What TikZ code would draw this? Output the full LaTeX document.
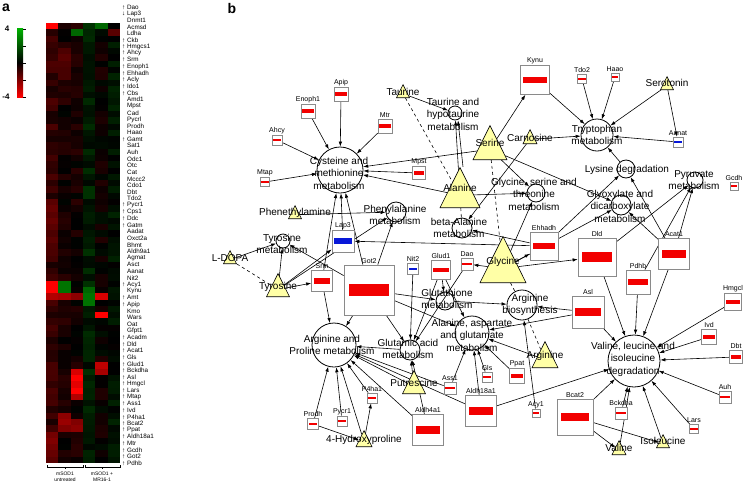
\documentclass[tikz,border=0pt]{standalone}
\usepackage{fontspec}
\setmainfont{Liberation Sans}
\usetikzlibrary{arrows.meta, shapes.geometric, backgrounds}

\definecolor{metYellow}{HTML}{FFFFA6}
\definecolor{barRed}{HTML}{F20000}
\definecolor{barBlue}{HTML}{0818D8}
\definecolor{boxGray}{HTML}{8A8A8A}
\definecolor{keyGreen}{HTML}{00B400}

\tikzset{
  panel/.style={font=\fontsize{14}{14}\selectfont\bfseries, inner sep=0pt},
  keylbl/.style={font=\fontsize{8}{8}\selectfont\bfseries, inner sep=0pt},
  hmlbl/.style={font=\fontsize{6.3}{6.5}\selectfont, inner sep=0pt, anchor=west},
  grplbl/.style={font=\fontsize{5}{5.5}\selectfont, align=center, inner sep=0pt},
  pathway/.style={circle, draw, line width=0.8pt, inner sep=0pt},
  pwtext/.style={align=center, font=\fontsize{10}{12.5}\selectfont, inner sep=0pt},
  metab/.style={isosceles triangle, isosceles triangle apex angle=53, shape border rotate=90,
    draw, fill=metYellow, inner sep=0pt, line width=0.6pt, anchor=lower side},
  enzbox/.style={draw=boxGray, fill=white, line width=0.7pt, inner sep=0pt},
  enzlbl/.style={font=\fontsize{7}{8}\selectfont, inner sep=1pt},
  rel/.style={-{Latex[length=5pt,width=3.5pt]}, line width=0.6pt},
  assoc/.style={dashed, line width=0.6pt}
}

% enzyme: name, x, y, size, bar colour, label
\newcommand{\enzyme}[6]{%
  \node[enzbox, minimum size=#4pt, label={[enzlbl]above:#6}] (#1) at (#2,#3) {};
  \node[fill=#5, inner sep=0pt, minimum width={0.8*#4pt}, minimum height={max(2,0.24*#4)*1pt}] (#1-bar) at (#1) {};
}
% metabolite: name, x, base y, width, text y, text
\newcommand{\metabolite}[6]{%
  \node[metab, minimum width=#4pt, minimum height=#4pt] (#1) at (#2,#3) {};
  \node[pwtext] (#1-txt) at (#2,#5) {#6};
}
% pathway: name, x, y, radius, text x, text y, text
\newcommand{\pathway}[7]{%
  \node[pathway, minimum size=2*#4pt] (#1) at (#2,#3) {};
  \node[pwtext] (#1-txt) at (#5,#6) {#7};
}

\begin{document}
\begin{tikzpicture}[x=1pt, y=-1pt]
\useasboundingbox (0,0) rectangle (746,488);

\node[panel] (pa) at (6,8) {a};
\node[panel] (pb) at (232,8) {b};

% colour key
\shade[top color=keyGreen, bottom color=red, middle color=black] (17,28) rectangle (23,97);
\foreach \t in {29,46,63,80,97} \draw[line width=0.5pt] (23,\t) -- (26,\t);
\node[keylbl] (k4) at (7,29) {4};
\node[keylbl] (km4) at (6,97) {-4};

% heat map
\pgfmathsetseed{42}
\foreach \r in {0,...,69}{
  \foreach \c in {0,...,5}{
    \pgfmathsetmacro\hb{{-0.2,-0.08,-0.08,0.14,-0.03,0.07}[\c]}
    \pgfmathsetmacro\hv{\hb+0.22*(rnd-0.5)}
    \pgfmathtruncatemacro\hp{min(100,abs(\hv)*100)}
    \pgfmathtruncatemacro\hn{\hv<0}
    \ifnum\hn=1 \def\hc{red}\else\def\hc{green!80!black}\fi
    \fill[\hc!\hp!black] (46+\c*12.33, 23+\r*6.286) rectangle ++(12.34, 6.3);
  }
}
\foreach \r/\c/\hc in {0/0/red, 1/2/green!40!black, 0/4/green!40!black, 1/5/red!35!black,
  4/1/red!30!black, 5/1/red!35!black, 6/1/red!30!black, 7/1/red!28!black, 8/1/red!28!black,
  28/0/red!35!black, 29/0/red!40!black, 30/0/red!35!black, 31/0/red!40!black, 32/0/red!35!black,
  33/0/red!30!black, 34/0/red!35!black, 35/0/red!30!black,
  41/0/red, 42/0/red, 41/1/green!45!black, 42/1/green!45!black,
  43/0/red!70!black, 43/1/red!65!black, 43/2/red!55!black, 43/4/red!85!black, 46/4/red,
  42/3/green!40!black, 43/3/green!45!black, 44/3/green!45!black,
  54/4/red!75!black, 55/4/red!65!black, 55/2/red!85!black, 56/2/red, 57/2/red!90!black,
  58/2/red, 59/2/red!70!black, 62/1/red!55!black, 63/1/red!60!black, 63/2/red!50!black,
  64/1/red!50!black, 64/2/red!55!black, 65/0/red!45!black, 66/0/red!50!black,
  67/0/red!45!black, 68/0/red!40!black, 69/0/red!35!black}
  \fill[\hc] (46+\c*12.33, 23+\r*6.286) rectangle ++(12.34, 6.3);

\foreach \m/\g [count=\i from 0] in {↑/Dao, ↓/Lap3, /Dnmt1, /Acmsd, /Ldha, ↑/Ckb, ↑/Hmgcs1,
  ↑/Ahcy, ↑/Srm, ↑/Enoph1, ↑/Ehhadh, ↑/Acly, ↑/Ido1, ↑/Cbs, /Amd1, /Mpst, /Cad, /Pycrl,
  /Prodh, /Haao, ↑/Gamt, /Sat1, /Auh, /Odc1, /Otc, /Cat, /Mccc2, /Cdo1, /Dbt, /Tdo2,
  ↑/Pycr1, ↑/Cps1, ↑/Ddc, ↑/Gatm, /Aadat, /Oxct2a, /Bhmt, /Aldh9a1, /Agmat, /Asct,
  /Aanat, /Nit2, ↑/Acy1, /Kynu, ↑/Amt, ↑/Apip, /Kmo, /Wars, /Oat, /Gfpt1, ↑/Acadm,
  ↑/Dld, ↑/Acat1, ↑/Gls, ↑/Glud1, ↑/Bckdha, ↑/Asl, ↑/Hmgcl, ↑/Lars, ↑/Mtap, ↑/Ass1,
  ↑/Ivd, ↑/P4ha1, ↑/Bcat2, ↑/Ppat, ↑/Aldh18a1, ↑/Mtr, ↑/Gcdh, ↑/Got2, ↑/Pdhb}
  \node[hmlbl] (hm-\i) at (122, 7+\i*6.61) {\makebox[5pt][l]{\m}\g};

% groups
\draw[line width=0.6pt] (47,465) -- (47,467) -- (83,467) -- (83,465) (65,467) -- (65,469);
\draw[line width=0.6pt] (85,465) -- (85,467) -- (120,467) -- (120,465) (102,467) -- (102,469);
\node[grplbl] (g1) at (65,477) {mSOD1\\untreated};
\node[grplbl] (g2) at (102,477) {mSOD1 +\\MR16-1};

% pathways
\pathway{cysmet}{340}{170}{23}{339}{173}{Cysteine and\\methionine\\metabolism}
\pathway{taumet}{455}{113}{7}{453}{114}{Taurine and\\hypotaurine\\metabolism}
\pathway{trpmet}{597}{135}{16}{597}{135}{Tryptophan\\metabolism}
\pathway{lysdeg}{626}{169}{9}{627}{170}{Lysine degradation}
\pathway{pyrmet}{695}{180}{8}{694}{180}{Pyruvate\\metabolism}
\pathway{gsmet}{536}{193}{9}{534}{194}{Glycine, serine and\\threonine\\metabolism}
\pathway{glxmet}{621}{205}{10}{620}{206}{Glyoxylate and\\dicarboxylate\\metabolism}
\pathway{phemet}{396}{212}{10}{395}{215}{Phenylalanine\\metabolism}
\pathway{bamet}{462}{228}{10}{459}{228}{beta-Alanine\\metabolism}
\pathway{tyrmet}{283}{241}{7}{282}{244}{Tyrosine\\metabolism}
\pathway{gshmet}{445}{301}{9}{447}{299}{Glutathione\\metabolism}
\pathway{argbio}{522}{305}{15}{530}{305}{Arginine\\biosynthesis}
\pathway{aagmet}{472}{333}{17}{472}{335}{Alanine, aspartate\\and glutamate\\metabolism}
\pathway{glumet}{410}{350}{10}{408}{349}{Glutamic acid\\metabolism}
\pathway{argpro}{334}{345}{22}{332}{345}{Arginine and\\Proline metabolism}
\pathway{vlideg}{634}{361}{26}{633}{359}{Valine, leucine and\\isoleucine\\degradation}

% metabolites
\metabolite{taurine}{403}{98}{13}{92}{Taurine}
\metabolite{serotonin}{667}{90}{13}{83}{Serotonin}
\metabolite{carnosine}{530}{144}{14}{138}{Carnosine}
\metabolite{serine}{490}{160}{34}{143}{Serine}
\metabolite{alanine}{460}{208}{40}{188}{Alanine}
\metabolite{glycine}{503}{283}{46}{262}{Glycine}
\metabolite{phenethyl}{295}{219}{13}{213}{Phenethylamine}
\metabolite{ldopa}{230}{264}{13}{258}{L-DOPA}
\metabolite{tyrosine}{278}{297}{23}{287}{Tyrosine}
\metabolite{arginine}{545}{368}{26}{356}{Arginine}
\metabolite{putrescine}{414}{394}{23}{383}{Putrescine}
\metabolite{hyp}{364}{447}{16}{440}{4-Hydroxyproline}
\metabolite{valine}{619}{455}{14}{448}{Valine}
\metabolite{isoleucine}{663}{448}{13}{441}{Isoleucine}

% enzymes
\enzyme{apip}{341}{94}{14}{barRed}{Apip}
\enzyme{enoph}{308}{111}{14}{barRed}{Enoph1}
\enzyme{mtr}{385}{126}{14}{barRed}{Mtr}
\enzyme{ahcy}{277}{140}{10}{barRed}{Ahcy}
\enzyme{mtap}{265}{182}{9}{barRed}{Mtap}
\enzyme{mpst}{419}{173}{13}{barRed}{Mpst}
\enzyme{kynu}{535}{80}{29}{barRed}{Kynu}
\enzyme{tdo}{582}{79}{9}{barRed}{Tdo2}
\enzyme{haao}{615}{77}{8}{barRed}{Haao}
\enzyme{aanat}{678}{142}{10}{barBlue}{Aanat}
\enzyme{gcdh}{734}{186}{8}{barRed}{Gcdh}
\enzyme{ehhadh}{544}{246}{28}{barRed}{Ehhadh}
\enzyme{dld}{597}{257}{38}{barRed}{Dld}
\enzyme{acat}{674}{254}{31}{barRed}{Acat1}
\enzyme{pdhb}{638}{282}{24}{barRed}{Pdhb}
\enzyme{asl}{588}{312}{32}{barRed}{Asl}
\enzyme{hmgcl}{733}{302}{17}{barRed}{Hmgcl}
\enzyme{ivd}{709}{337}{15}{barRed}{Ivd}
\enzyme{dbt}{736}{357}{13}{barRed}{Dbt}
\enzyme{auh}{725}{397}{12}{barRed}{Auh}
\enzyme{lars}{694}{429}{9}{barRed}{Lars}
\enzyme{bckdha}{621}{413}{12}{barRed}{Bckdha}
\enzyme{bcat}{575}{417}{36}{barRed}{Bcat2}
\enzyme{acy}{536}{413}{8}{barRed}{Acy1}
\enzyme{ppat}{517}{376}{15}{barRed}{Ppat}
\enzyme{gls}{487}{377}{10}{barRed}{Gls}
\enzyme{aldhia}{481}{411}{31}{barRed}{Aldh18a1}
\enzyme{dao}{467}{264}{12}{barRed}{Dao}
\enzyme{glud}{441}{270}{19}{barRed}{Glud1}
\enzyme{nit}{413}{269}{11}{barBlue}{Nit2}
\enzyme{ass}{450}{388}{12}{barRed}{Ass1}
\enzyme{pha}{372}{398}{10}{barRed}{P4ha1}
\enzyme{prodh}{313}{424}{11}{barRed}{Prodh}
\enzyme{pycr}{342}{421}{10}{barRed}{Pycr1}
\enzyme{aldhiv}{428}{430}{31}{barRed}{Aldh4a1}
\enzyme{got}{369}{290}{50}{barRed}{Got2}
\enzyme{srm}{322}{281}{21}{barRed}{Srm}
\enzyme{lap}{343}{241}{22}{barBlue}{Lap3}

\begin{scope}[on background layer]
\foreach \a/\b in {enoph/cysmet, apip/cysmet, mtr/cysmet, ahcy/cysmet, mtap/cysmet,
  mpst/cysmet, serine/cysmet, alanine/cysmet, lap/cysmet, srm/cysmet, got/cysmet,
  taurine/taumet, alanine/taumet,
  kynu/trpmet, tdo/trpmet, haao/trpmet, serotonin/trpmet, aanat/trpmet, carnosine/trpmet,
  lysdeg/trpmet, serine/kynu, serotonin/aanat, carnosine/bamet,
  ehhadh/lysdeg, acat/lysdeg, glycine/gsmet, serine/gsmet, alanine/gsmet,
  serine/glxmet, acat/glxmet, glycine/glxmet, acat/pyrmet, dld/pyrmet, pdhb/pyrmet,
  phenethyl/phemet, got/phemet, tyrosine/phemet, ehhadh/lap, ehhadh/bamet,
  ldopa/tyrmet, tyrosine/tyrmet, got/tyrmet, tyrosine/srm, tyrosine/lap,
  srm/argpro, got/argpro, got/glumet, got/aagmet, got/gshmet,
  glud/glumet, glud/gshmet, glud/aagmet, glycine/dao, dao/glumet, nit/glumet,
  asl/argbio, gshmet/argbio, acy/argbio,
  ass/aagmet, gls/aagmet, ppat/aagmet, asl/aagmet, aldhia/aagmet, arginine/aagmet,
  putrescine/glumet, putrescine/argpro, aldhiv/argpro, aldhiv/glumet, prodh/argpro,
  pycr/argpro, hyp/argpro, hyp/pha, glumet/argpro, aldhia/argpro, ass/argpro, pha/argpro,
  prodh/hyp,
  bcat/vlideg, bckdha/vlideg, ivd/vlideg, dbt/vlideg, auh/vlideg, lars/vlideg,
  hmgcl/vlideg, valine/vlideg, isoleucine/vlideg, aldhia/vlideg, dld/vlideg,
  pdhb/vlideg, acat/vlideg, asl/vlideg, bcat/valine, bcat/isoleucine,
  glycine/dld, glycine/ehhadh}
  \draw[rel] (\a) -- (\b);
\draw[rel] ([xshift=3pt]alanine.apex) -- ([xshift=3pt]taumet.south);
\foreach \a/\b in {taurine/alanine, serine/glycine, alanine/bamet, glycine/argbio,
  ldopa/tyrosine, argbio/arginine}
  \draw[assoc] (\a) -- (\b);
\end{scope}
\end{tikzpicture}
\end{document}
